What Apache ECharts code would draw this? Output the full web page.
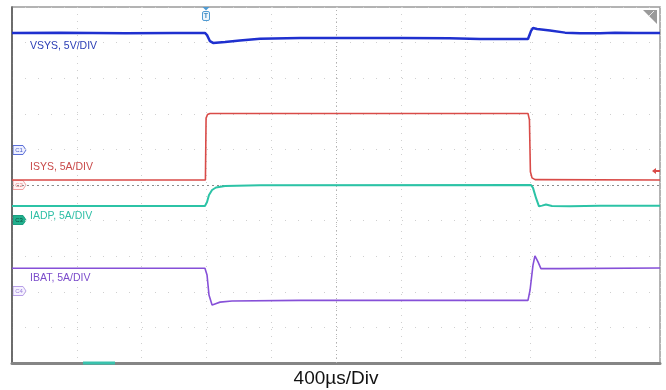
<!DOCTYPE html>
<html>
<head>
<meta charset="utf-8">
<script src="https://cdn.jsdelivr.net/npm/echarts@6/dist/echarts.min.js"></script>
<style>
html,body{margin:0;padding:0;background:#fff;}
#chart{width:666px;height:390px;}
</style>
</head>
<body>
<div id="chart"></div>
<script>
// time in µs (0..4000, 400 µs/div), vertical position in divisions (-5..5)
var vsys = [[0,4.27],[300,4.28],[700,4.26],[1000,4.27],[1191,4.27],[1204,4.21],[1222,4.04],[1241,3.99],[1315,4.02],[1407,4.06],[1531,4.11],[1778,4.13],[2100,4.13],[2395,4.13],[2700,4.12],[2889,4.10],[3185,4.10],[3204,4.33],[3216,4.41],[3241,4.38],[3321,4.34],[3414,4.28],[3506,4.26],[3630,4.26],[3722,4.28],[3850,4.27],[4000,4.27]];
var isys = [[0,0.14],[1194,0.14],[1198,1.88],[1207,1.98],[1222,2.01],[1778,2.01],[3185,2.01],[3194,1.83],[3200,0.37],[3210,0.20],[3229,0.15],[4000,0.14]];
var iadp = [[0,-0.59],[1191,-0.59],[1204,-0.48],[1216,-0.28],[1235,-0.14],[1259,-0.07],[1315,-0.03],[1531,-0.01],[3204,0.0],[3216,-0.08],[3235,-0.37],[3253,-0.60],[3272,-0.58],[3296,-0.55],[3333,-0.59],[3444,-0.60],[3630,-0.58],[4000,-0.58]];
var ibat = [[0,-2.34],[1191,-2.34],[1204,-2.53],[1216,-3.09],[1235,-3.37],[1253,-3.34],[1284,-3.29],[1358,-3.26],[1778,-3.24],[2395,-3.24],[3185,-3.24],[3198,-2.95],[3216,-2.25],[3228,-1.99],[3247,-2.16],[3265,-2.35],[3383,-2.35],[4000,-2.33]];
var channelLabels = ['VSYS, 5V/DIV','ISYS, 5A/DIV','IADP, 5A/DIV','IBAT, 5A/DIV'];
var timeBaseLabel = '400µs/Div';

var cBlue='#1f30cf', cRed='#d94b48', cTeal='#2cc3a6', cPurple='#8650d8';

function tag(x, yc, txt, stroke, fill, txtColor){
  return {type:'group', x:x, y:yc-4.5, z:50, children:[
    {type:'polygon', shape:{points:[[0,0],[10,0],[13,4.5],[10,9],[0,9]]}, style:{fill:fill, stroke:stroke, lineWidth:1}},
    {type:'text', x:6, y:4.5, style:{text:txt, fill:txtColor, font:'6px "Liberation Sans"', align:'center', verticalAlign:'middle'}}
  ]};
}

var chart = echarts.init(document.getElementById('chart'));
var lineCommon = {type:'line', showSymbol:false, symbol:'none', animation:false, silent:true};
chart.setOption({
  animation:false,
  grid:{left:12, top:7, width:648, height:356, show:true, borderColor:'#9a9a9a', borderWidth:1.5, backgroundColor:'#fff', outerBoundsMode:'none', containLabel:false},
  xAxis:{type:'value', min:0, max:4000, interval:400,
    axisLabel:{show:false}, axisTick:{show:false},
    axisLine:{show:true, onZero:false, lineStyle:{color:'#858585', width:3}},
    splitLine:{show:true, lineStyle:{color:'#d0d0d0', width:1, type:[1,6]}},
    name:timeBaseLabel, nameLocation:'middle', nameGap:6,
    nameTextStyle:{color:'#111', fontSize:19, fontFamily:'Liberation Sans', verticalAlign:'top'}
  },
  yAxis:{type:'value', min:-5, max:5, interval:1,
    axisLabel:{show:false}, axisTick:{show:false},
    axisLine:{show:true, onZero:false, lineStyle:{color:'#555', width:1.5}},
    splitLine:{show:true, lineStyle:{color:'#cfcfcf', width:1, type:[1,12]}}
  },
  series:[
    Object.assign({}, lineCommon, {name:'VSYS', data:vsys, lineStyle:{color:cBlue, width:2.5}, z:5}),
    Object.assign({}, lineCommon, {name:'ISYS', data:isys, lineStyle:{color:cRed, width:1.6}, z:4,
      markLine:{silent:true, symbol:'none', label:{show:false}, animation:false,
        data:[{yAxis:0, lineStyle:{color:'#8a8a8a', type:[2,3], width:1}},
              {xAxis:2000, lineStyle:{color:'#b0b0b0', type:[1,3], width:1}}]}}),
    Object.assign({}, lineCommon, {name:'IADP', data:iadp, lineStyle:{color:cTeal, width:2}, z:6}),
    Object.assign({}, lineCommon, {name:'IBAT', data:ibat, lineStyle:{color:cPurple, width:1.6}, z:5})
  ],
  graphic:[
    {type:'text', left:30, top:41, z:50, style:{text:channelLabels[0], fill:'#2a3db5', font:'10.5px "Liberation Sans"'}},
    {type:'text', left:30, top:162, z:50, style:{text:channelLabels[1], fill:'#c94a4a', font:'10.5px "Liberation Sans"'}},
    {type:'text', left:30, top:211, z:50, style:{text:channelLabels[2], fill:'#2fbfa6', font:'10.5px "Liberation Sans"'}},
    {type:'text', left:30, top:273, z:50, style:{text:channelLabels[3], fill:'#7b4ccb', font:'10.5px "Liberation Sans"'}},
    tag(13,150,'C1','#5a6fd8','#eef0ff','#4a5fc8'),
    tag(13,185,'C2','#f0a0a0','#fff4f4','#e08080'),
    tag(13,220,'C3','#1a9e80','#22b08e','#0a4a3a'),
    tag(13,291,'C4','#b8a0e8','#f6f2ff','#9a80d8'),
    // trigger marker
    {type:'polygon', z:50, shape:{points:[[202.5,7],[209.5,7],[206,10.5]]}, style:{fill:'#4f9bd3'}},
    {type:'rect', z:50, shape:{x:202.5, y:11.5, width:7, height:9, r:1.5}, style:{fill:'#eef6fc', stroke:'#4f9bd3', lineWidth:1}},
    {type:'text', z:51, x:206, y:16, style:{text:'T', fill:'#3f8bc3', font:'bold 7px "Liberation Sans"', align:'center', verticalAlign:'middle'}},
    // top-right corner icon
    {type:'polygon', z:50, shape:{points:[[643,10],[657,10],[657,24]]}, style:{fill:'#9a9a9a'}},
    {type:'line', z:51, shape:{x1:649, y1:16, x2:654, y2:11}, style:{stroke:'#e8e8e8', lineWidth:1}},
    // ISYS offset arrow
    {type:'polygon', z:50, shape:{points:[[652,171],[656,168],[656,170],[660,170],[660,172],[656,172],[656,174]]}, style:{fill:cRed}},
    // bottom border segment
    {type:'line', z:50, shape:{x1:83, y1:363, x2:115, y2:363}, style:{stroke:'#39c2ad', lineWidth:3}}
  ]
});
</script>
</body>
</html>
